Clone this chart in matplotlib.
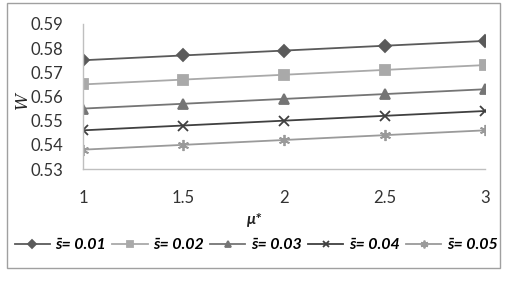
import matplotlib
matplotlib.use("Agg")
import matplotlib.pyplot as plt
from matplotlib.patches import Rectangle

mu = [1, 1.5, 2, 2.5, 3]
w_001 = [0.575, 0.577, 0.579, 0.581, 0.583]
w_002 = [0.565, 0.567, 0.569, 0.571, 0.573]
w_003 = [0.555, 0.557, 0.559, 0.561, 0.563]
w_004 = [0.546, 0.548, 0.550, 0.552, 0.554]
w_005 = [0.538, 0.540, 0.542, 0.544, 0.546]
labels = ["s\u0304= 0.01", "s\u0304= 0.02", "s\u0304= 0.03", "s\u0304= 0.04", "s\u0304= 0.05"]
yticks = [0.53, 0.54, 0.55, 0.56, 0.57, 0.58, 0.59]
xticks = [1, 1.5, 2, 2.5, 3]

plt.rcParams['font.family'] = ['Lato', 'DejaVu Sans']

fig = plt.figure(figsize=(5.1, 2.82), dpi=100)
ax = fig.add_axes([83/510, 1-169/282, (485-83)/510, (169-24)/282])

series = [w_001, w_002, w_003, w_004, w_005]
colors = ["#5a5a5a", "#a9a9a9", "#757575", "#404040", "#9a9a9a"]
markers = ["D", "s", "^", "x", (6, 2, 0)]
msizes = [6, 7, 7, 7, 8]
for vals, c, m, ms, lab in zip(series, colors, markers, msizes, labels):
    ax.plot(mu, vals, color=c, lw=1.3, marker=m, ms=ms, mew=1.3, mec=c, mfc=c, label=lab)

ax.set_xlim(1, 3)
ax.set_ylim(0.53, 0.59)
ax.set_xticks(xticks)
ax.set_xticklabels([str(x) if x != int(x) else str(int(x)) for x in xticks])
ax.set_yticks(yticks)
ax.set_yticklabels([f"{y:.2f}" for y in yticks])
ax.tick_params(length=0, labelsize=12, colors="#333333", pad=14)
ax.tick_params(axis='x', pad=15)
for s in ["top", "right"]:
    ax.spines[s].set_visible(False)
for s in ["left", "bottom"]:
    ax.spines[s].set_color("#bfbfbf")
    ax.spines[s].set_linewidth(1)
ax.set_facecolor("none")

fig.text(22/510, 1-100/282, "W", rotation=90, family="DejaVu Serif", style="italic",
         fontsize=12, ha="center", va="center", color="#222222")
fig.text(255/510, 1-220/282, "\u03bc*", fontweight="bold", style="italic",
         fontsize=11.5, ha="center", va="center", color="#222222")

leg = fig.legend(loc="center", bbox_to_anchor=(256/510, 1-245/282), ncol=5, frameon=False,
                 handlelength=2.2, columnspacing=0.4, handletextpad=0.35, borderaxespad=0,
                 markerscale=0.7,
                 prop={"weight": "bold", "style": "italic", "size": 11.5})

fig.add_artist(Rectangle((7/510, 1-268/282), (500-7)/510, (268-3)/282,
                         transform=fig.transFigure, fill=False, ec="#a0a0a0", lw=1))

fig.savefig("out.png", dpi=100)
